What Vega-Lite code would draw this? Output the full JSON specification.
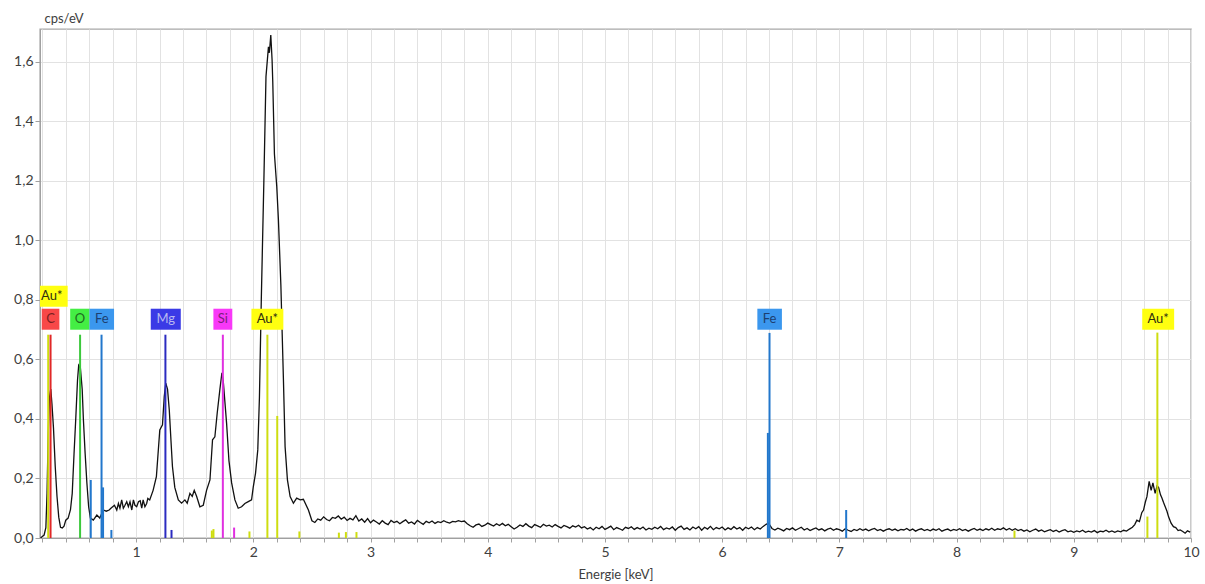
{
  "$schema": "https://vega.github.io/schema/vega-lite/v6.json",
  "width": 1151,
  "height": 509,
  "autosize": "none",
  "padding": {"left": 40, "top": 29, "right": 14, "bottom": 46},
  "background": "white",
  "config": {
    "view": {"stroke": "#a8a8a8", "strokeWidth": 1.4},
    "font": "Lato",
    "axis": {"labelFont": "Lato", "titleFont": "Lato", "labelColor": "#404040", "titleColor": "#404040", "titleFontWeight": "normal", "domainColor": "#a0a0a0", "tickColor": "#a0a0a0", "gridColor": "#e2e2e2", "gridWidth": 1}
  },
  "datasets": {
    "spectrum": [
      {"keV": 0.185, "cps": 0.0}, {"keV": 0.2, "cps": 0.005}, {"keV": 0.215, "cps": 0.01}, {"keV": 0.23, "cps": 0.035},
      {"keV": 0.24, "cps": 0.15}, {"keV": 0.25, "cps": 0.35}, {"keV": 0.26, "cps": 0.47}, {"keV": 0.272, "cps": 0.5},
      {"keV": 0.282, "cps": 0.45}, {"keV": 0.295, "cps": 0.37}, {"keV": 0.31, "cps": 0.24}, {"keV": 0.325, "cps": 0.14},
      {"keV": 0.34, "cps": 0.07}, {"keV": 0.355, "cps": 0.036}, {"keV": 0.37, "cps": 0.034}, {"keV": 0.385, "cps": 0.04},
      {"keV": 0.4, "cps": 0.06}, {"keV": 0.42, "cps": 0.067}, {"keV": 0.44, "cps": 0.095}, {"keV": 0.455, "cps": 0.15},
      {"keV": 0.47, "cps": 0.28}, {"keV": 0.485, "cps": 0.4}, {"keV": 0.5, "cps": 0.53}, {"keV": 0.51, "cps": 0.58},
      {"keV": 0.525, "cps": 0.57}, {"keV": 0.54, "cps": 0.5}, {"keV": 0.55, "cps": 0.4}, {"keV": 0.565, "cps": 0.285},
      {"keV": 0.58, "cps": 0.185}, {"keV": 0.595, "cps": 0.105}, {"keV": 0.61, "cps": 0.067}, {"keV": 0.635, "cps": 0.06},
      {"keV": 0.665, "cps": 0.077}, {"keV": 0.69, "cps": 0.067}, {"keV": 0.72, "cps": 0.094}, {"keV": 0.745, "cps": 0.09},
      {"keV": 0.77, "cps": 0.094}, {"keV": 0.785, "cps": 0.1}, {"keV": 0.8, "cps": 0.105}, {"keV": 0.815, "cps": 0.11},
      {"keV": 0.835, "cps": 0.094}, {"keV": 0.849, "cps": 0.116}, {"keV": 0.862, "cps": 0.1},
      {"keV": 0.877, "cps": 0.128}, {"keV": 0.891, "cps": 0.1}, {"keV": 0.905, "cps": 0.11}, {"keV": 0.92, "cps": 0.122}, {"keV": 0.934, "cps": 0.105},
      {"keV": 0.948, "cps": 0.122}, {"keV": 0.963, "cps": 0.094}, {"keV": 0.977, "cps": 0.128}, {"keV": 0.99, "cps": 0.11}, {"keV": 1.005, "cps": 0.105},
      {"keV": 1.02, "cps": 0.122}, {"keV": 1.035, "cps": 0.125}, {"keV": 1.048, "cps": 0.1}, {"keV": 1.06, "cps": 0.128}, {"keV": 1.075, "cps": 0.105}, {"keV": 1.09, "cps": 0.116},
      {"keV": 1.1, "cps": 0.133}, {"keV": 1.116, "cps": 0.128}, {"keV": 1.145, "cps": 0.16}, {"keV": 1.173, "cps": 0.206},
      {"keV": 1.202, "cps": 0.363}, {"keV": 1.225, "cps": 0.38}, {"keV": 1.24, "cps": 0.475}, {"keV": 1.253, "cps": 0.52},
      {"keV": 1.268, "cps": 0.5}, {"keV": 1.283, "cps": 0.43}, {"keV": 1.297, "cps": 0.33}, {"keV": 1.31, "cps": 0.24},
      {"keV": 1.33, "cps": 0.17}, {"keV": 1.36, "cps": 0.128}, {"keV": 1.388, "cps": 0.117}, {"keV": 1.416, "cps": 0.128},
      {"keV": 1.436, "cps": 0.117}, {"keV": 1.459, "cps": 0.15}, {"keV": 1.479, "cps": 0.14}, {"keV": 1.496, "cps": 0.16},
      {"keV": 1.516, "cps": 0.14}, {"keV": 1.544, "cps": 0.105}, {"keV": 1.573, "cps": 0.11}, {"keV": 1.601, "cps": 0.16},
      {"keV": 1.63, "cps": 0.195}, {"keV": 1.652, "cps": 0.33}, {"keV": 1.672, "cps": 0.34}, {"keV": 1.692, "cps": 0.42},
      {"keV": 1.715, "cps": 0.5}, {"keV": 1.732, "cps": 0.555}, {"keV": 1.743, "cps": 0.53}, {"keV": 1.757, "cps": 0.46},
      {"keV": 1.772, "cps": 0.385}, {"keV": 1.792, "cps": 0.26}, {"keV": 1.815, "cps": 0.185}, {"keV": 1.843, "cps": 0.128},
      {"keV": 1.871, "cps": 0.1}, {"keV": 1.9, "cps": 0.105}, {"keV": 1.928, "cps": 0.116}, {"keV": 1.957, "cps": 0.122},
      {"keV": 1.985, "cps": 0.128}, {"keV": 1.999, "cps": 0.17}, {"keV": 2.019, "cps": 0.218}, {"keV": 2.038, "cps": 0.296},
      {"keV": 2.052, "cps": 0.47}, {"keV": 2.068, "cps": 0.8}, {"keV": 2.09, "cps": 1.2}, {"keV": 2.108, "cps": 1.55},
      {"keV": 2.129, "cps": 1.65}, {"keV": 2.137, "cps": 1.63}, {"keV": 2.149, "cps": 1.69}, {"keV": 2.16, "cps": 1.607},
      {"keV": 2.166, "cps": 1.53}, {"keV": 2.18, "cps": 1.29}, {"keV": 2.2, "cps": 1.18}, {"keV": 2.214, "cps": 1.07},
      {"keV": 2.235, "cps": 0.85}, {"keV": 2.257, "cps": 0.53}, {"keV": 2.271, "cps": 0.307}, {"keV": 2.291, "cps": 0.195},
      {"keV": 2.314, "cps": 0.139}, {"keV": 2.342, "cps": 0.117}, {"keV": 2.37, "cps": 0.134}, {"keV": 2.4, "cps": 0.128},
      {"keV": 2.427, "cps": 0.13}, {"keV": 2.47, "cps": 0.094},
      {"keV": 2.5, "cps": 0.058}, {"keV": 2.525, "cps": 0.052}, {"keV": 2.55, "cps": 0.064}, {"keV": 2.575, "cps": 0.06},
      {"keV": 2.6, "cps": 0.071}, {"keV": 2.625, "cps": 0.062}, {"keV": 2.65, "cps": 0.058}, {"keV": 2.675, "cps": 0.069},
      {"keV": 2.7, "cps": 0.066}, {"keV": 2.725, "cps": 0.074}, {"keV": 2.75, "cps": 0.063}, {"keV": 2.775, "cps": 0.07},
      {"keV": 2.8, "cps": 0.059}, {"keV": 2.825, "cps": 0.066}, {"keV": 2.85, "cps": 0.061}, {"keV": 2.875, "cps": 0.075},
      {"keV": 2.9, "cps": 0.057}, {"keV": 2.925, "cps": 0.064}, {"keV": 2.95, "cps": 0.053}, {"keV": 2.975, "cps": 0.065},
      {"keV": 3.0, "cps": 0.051}, {"keV": 3.025, "cps": 0.06}, {"keV": 3.05, "cps": 0.054}, {"keV": 3.075, "cps": 0.047},
      {"keV": 3.1, "cps": 0.058}, {"keV": 3.125, "cps": 0.05}, {"keV": 3.15, "cps": 0.045}, {"keV": 3.175, "cps": 0.059},
      {"keV": 3.2, "cps": 0.052}, {"keV": 3.225, "cps": 0.056}, {"keV": 3.25, "cps": 0.048}, {"keV": 3.275, "cps": 0.055},
      {"keV": 3.3, "cps": 0.061}, {"keV": 3.325, "cps": 0.05}, {"keV": 3.35, "cps": 0.054}, {"keV": 3.375, "cps": 0.047},
      {"keV": 3.4, "cps": 0.059}, {"keV": 3.425, "cps": 0.052}, {"keV": 3.45, "cps": 0.046}, {"keV": 3.475, "cps": 0.056},
      {"keV": 3.5, "cps": 0.051}, {"keV": 3.525, "cps": 0.057}, {"keV": 3.55, "cps": 0.049}, {"keV": 3.575, "cps": 0.055},
      {"keV": 3.6, "cps": 0.052}, {"keV": 3.625, "cps": 0.058}, {"keV": 3.65, "cps": 0.053}, {"keV": 3.675, "cps": 0.05},
      {"keV": 3.7, "cps": 0.056}, {"keV": 3.725, "cps": 0.054}, {"keV": 3.75, "cps": 0.058}, {"keV": 3.775, "cps": 0.055},
      {"keV": 3.8, "cps": 0.057}, {"keV": 3.825, "cps": 0.048}, {"keV": 3.85, "cps": 0.041}, {"keV": 3.875, "cps": 0.036},
      {"keV": 3.9, "cps": 0.044}, {"keV": 3.925, "cps": 0.047}, {"keV": 3.95, "cps": 0.039}, {"keV": 3.975, "cps": 0.043},
      {"keV": 4.0, "cps": 0.05}, {"keV": 4.025, "cps": 0.045}, {"keV": 4.05, "cps": 0.04}, {"keV": 4.075, "cps": 0.048},
      {"keV": 4.1, "cps": 0.042}, {"keV": 4.125, "cps": 0.049}, {"keV": 4.15, "cps": 0.041}, {"keV": 4.175, "cps": 0.046},
      {"keV": 4.2, "cps": 0.038}, {"keV": 4.225, "cps": 0.03}, {"keV": 4.25, "cps": 0.036}, {"keV": 4.275, "cps": 0.044},
      {"keV": 4.3, "cps": 0.039}, {"keV": 4.325, "cps": 0.048}, {"keV": 4.35, "cps": 0.04}, {"keV": 4.375, "cps": 0.035},
      {"keV": 4.4, "cps": 0.045}, {"keV": 4.425, "cps": 0.041}, {"keV": 4.45, "cps": 0.036}, {"keV": 4.475, "cps": 0.046},
      {"keV": 4.5, "cps": 0.04}, {"keV": 4.525, "cps": 0.043}, {"keV": 4.55, "cps": 0.037}, {"keV": 4.575, "cps": 0.045},
      {"keV": 4.6, "cps": 0.039}, {"keV": 4.625, "cps": 0.034}, {"keV": 4.65, "cps": 0.042}, {"keV": 4.675, "cps": 0.038},
      {"keV": 4.7, "cps": 0.033}, {"keV": 4.725, "cps": 0.041}, {"keV": 4.75, "cps": 0.037}, {"keV": 4.775, "cps": 0.043},
      {"keV": 4.8, "cps": 0.034}, {"keV": 4.825, "cps": 0.038}, {"keV": 4.85, "cps": 0.03}, {"keV": 4.875, "cps": 0.035},
      {"keV": 4.9, "cps": 0.027}, {"keV": 4.925, "cps": 0.036}, {"keV": 4.95, "cps": 0.031}, {"keV": 4.975, "cps": 0.039},
      {"keV": 5.0, "cps": 0.029}, {"keV": 5.025, "cps": 0.034}, {"keV": 5.05, "cps": 0.04}, {"keV": 5.075, "cps": 0.028},
      {"keV": 5.1, "cps": 0.035}, {"keV": 5.125, "cps": 0.031}, {"keV": 5.15, "cps": 0.026}, {"keV": 5.175, "cps": 0.036},
      {"keV": 5.2, "cps": 0.032}, {"keV": 5.225, "cps": 0.038}, {"keV": 5.25, "cps": 0.029}, {"keV": 5.275, "cps": 0.035},
      {"keV": 5.3, "cps": 0.03}, {"keV": 5.325, "cps": 0.037}, {"keV": 5.35, "cps": 0.027}, {"keV": 5.375, "cps": 0.033},
      {"keV": 5.4, "cps": 0.029}, {"keV": 5.425, "cps": 0.036}, {"keV": 5.45, "cps": 0.031}, {"keV": 5.475, "cps": 0.039},
      {"keV": 5.5, "cps": 0.028}, {"keV": 5.525, "cps": 0.034}, {"keV": 5.55, "cps": 0.03}, {"keV": 5.575, "cps": 0.037},
      {"keV": 5.6, "cps": 0.026}, {"keV": 5.625, "cps": 0.035}, {"keV": 5.65, "cps": 0.04}, {"keV": 5.675, "cps": 0.029},
      {"keV": 5.7, "cps": 0.034}, {"keV": 5.725, "cps": 0.027}, {"keV": 5.75, "cps": 0.037}, {"keV": 5.775, "cps": 0.031},
      {"keV": 5.8, "cps": 0.038}, {"keV": 5.825, "cps": 0.026}, {"keV": 5.85, "cps": 0.036}, {"keV": 5.875, "cps": 0.03},
      {"keV": 5.9, "cps": 0.039}, {"keV": 5.925, "cps": 0.028}, {"keV": 5.95, "cps": 0.035}, {"keV": 5.975, "cps": 0.031},
      {"keV": 6.0, "cps": 0.037}, {"keV": 6.025, "cps": 0.027}, {"keV": 6.05, "cps": 0.034}, {"keV": 6.075, "cps": 0.029},
      {"keV": 6.1, "cps": 0.038}, {"keV": 6.125, "cps": 0.03}, {"keV": 6.15, "cps": 0.035}, {"keV": 6.175, "cps": 0.026},
      {"keV": 6.2, "cps": 0.036}, {"keV": 6.225, "cps": 0.031}, {"keV": 6.25, "cps": 0.037}, {"keV": 6.275, "cps": 0.028},
      {"keV": 6.3, "cps": 0.035}, {"keV": 6.325, "cps": 0.03}, {"keV": 6.35, "cps": 0.039}, {"keV": 6.375, "cps": 0.046},
      {"keV": 6.395, "cps": 0.05}, {"keV": 6.425, "cps": 0.032}, {"keV": 6.45, "cps": 0.027}, {"keV": 6.475, "cps": 0.033},
      {"keV": 6.5, "cps": 0.029}, {"keV": 6.525, "cps": 0.024}, {"keV": 6.55, "cps": 0.032}, {"keV": 6.575, "cps": 0.028},
      {"keV": 6.6, "cps": 0.034}, {"keV": 6.625, "cps": 0.026}, {"keV": 6.65, "cps": 0.031}, {"keV": 6.675, "cps": 0.036},
      {"keV": 6.7, "cps": 0.027}, {"keV": 6.725, "cps": 0.032}, {"keV": 6.75, "cps": 0.025}, {"keV": 6.775, "cps": 0.03},
      {"keV": 6.8, "cps": 0.034}, {"keV": 6.825, "cps": 0.027}, {"keV": 6.85, "cps": 0.031}, {"keV": 6.875, "cps": 0.024},
      {"keV": 6.9, "cps": 0.03}, {"keV": 6.925, "cps": 0.033}, {"keV": 6.95, "cps": 0.026}, {"keV": 6.975, "cps": 0.031},
      {"keV": 7.0, "cps": 0.028}, {"keV": 7.025, "cps": 0.023}, {"keV": 7.05, "cps": 0.031}, {"keV": 7.075, "cps": 0.026},
      {"keV": 7.1, "cps": 0.022}, {"keV": 7.125, "cps": 0.029}, {"keV": 7.15, "cps": 0.025}, {"keV": 7.175, "cps": 0.031},
      {"keV": 7.2, "cps": 0.026}, {"keV": 7.225, "cps": 0.03}, {"keV": 7.25, "cps": 0.024}, {"keV": 7.275, "cps": 0.029},
      {"keV": 7.3, "cps": 0.032}, {"keV": 7.325, "cps": 0.025}, {"keV": 7.35, "cps": 0.029}, {"keV": 7.375, "cps": 0.023},
      {"keV": 7.4, "cps": 0.028}, {"keV": 7.425, "cps": 0.031}, {"keV": 7.45, "cps": 0.026}, {"keV": 7.475, "cps": 0.03},
      {"keV": 7.5, "cps": 0.024}, {"keV": 7.525, "cps": 0.029}, {"keV": 7.55, "cps": 0.027}, {"keV": 7.575, "cps": 0.032},
      {"keV": 7.6, "cps": 0.025}, {"keV": 7.625, "cps": 0.03}, {"keV": 7.65, "cps": 0.023}, {"keV": 7.675, "cps": 0.028},
      {"keV": 7.7, "cps": 0.031}, {"keV": 7.725, "cps": 0.025}, {"keV": 7.75, "cps": 0.029}, {"keV": 7.775, "cps": 0.024},
      {"keV": 7.8, "cps": 0.03}, {"keV": 7.825, "cps": 0.026}, {"keV": 7.85, "cps": 0.031}, {"keV": 7.875, "cps": 0.023},
      {"keV": 7.9, "cps": 0.027}, {"keV": 7.925, "cps": 0.03}, {"keV": 7.95, "cps": 0.024}, {"keV": 7.975, "cps": 0.029},
      {"keV": 8.0, "cps": 0.026}, {"keV": 8.025, "cps": 0.031}, {"keV": 8.05, "cps": 0.025}, {"keV": 8.075, "cps": 0.029},
      {"keV": 8.1, "cps": 0.023}, {"keV": 8.125, "cps": 0.028}, {"keV": 8.15, "cps": 0.032}, {"keV": 8.175, "cps": 0.026},
      {"keV": 8.2, "cps": 0.03}, {"keV": 8.225, "cps": 0.025}, {"keV": 8.25, "cps": 0.031}, {"keV": 8.275, "cps": 0.027},
      {"keV": 8.3, "cps": 0.033}, {"keV": 8.325, "cps": 0.026}, {"keV": 8.35, "cps": 0.031}, {"keV": 8.375, "cps": 0.028},
      {"keV": 8.4, "cps": 0.034}, {"keV": 8.425, "cps": 0.027}, {"keV": 8.45, "cps": 0.032}, {"keV": 8.475, "cps": 0.026},
      {"keV": 8.5, "cps": 0.031}, {"keV": 8.525, "cps": 0.025}, {"keV": 8.55, "cps": 0.029}, {"keV": 8.575, "cps": 0.023},
      {"keV": 8.6, "cps": 0.027}, {"keV": 8.625, "cps": 0.021}, {"keV": 8.65, "cps": 0.026}, {"keV": 8.675, "cps": 0.03},
      {"keV": 8.7, "cps": 0.023}, {"keV": 8.725, "cps": 0.027}, {"keV": 8.75, "cps": 0.021}, {"keV": 8.775, "cps": 0.025},
      {"keV": 8.8, "cps": 0.028}, {"keV": 8.825, "cps": 0.022}, {"keV": 8.85, "cps": 0.026}, {"keV": 8.875, "cps": 0.02},
      {"keV": 8.9, "cps": 0.025}, {"keV": 8.925, "cps": 0.028}, {"keV": 8.95, "cps": 0.021}, {"keV": 8.975, "cps": 0.024},
      {"keV": 9.0, "cps": 0.019}, {"keV": 9.025, "cps": 0.024}, {"keV": 9.05, "cps": 0.021}, {"keV": 9.075, "cps": 0.026},
      {"keV": 9.1, "cps": 0.019}, {"keV": 9.125, "cps": 0.023}, {"keV": 9.15, "cps": 0.02}, {"keV": 9.175, "cps": 0.025},
      {"keV": 9.2, "cps": 0.018}, {"keV": 9.225, "cps": 0.023}, {"keV": 9.25, "cps": 0.021}, {"keV": 9.275, "cps": 0.026},
      {"keV": 9.3, "cps": 0.02}, {"keV": 9.325, "cps": 0.024}, {"keV": 9.35, "cps": 0.019}, {"keV": 9.375, "cps": 0.024},
      {"keV": 9.4, "cps": 0.021}, {"keV": 9.425, "cps": 0.026}, {"keV": 9.45, "cps": 0.023}, {"keV": 9.475, "cps": 0.03},
      {"keV": 9.5, "cps": 0.036}, {"keV": 9.52, "cps": 0.045}, {"keV": 9.538, "cps": 0.06}, {"keV": 9.56, "cps": 0.055},
      {"keV": 9.58, "cps": 0.085}, {"keV": 9.595, "cps": 0.094}, {"keV": 9.61, "cps": 0.12}, {"keV": 9.624, "cps": 0.139},
      {"keV": 9.643, "cps": 0.19}, {"keV": 9.66, "cps": 0.16}, {"keV": 9.675, "cps": 0.185}, {"keV": 9.694, "cps": 0.15},
      {"keV": 9.71, "cps": 0.175}, {"keV": 9.723, "cps": 0.17}, {"keV": 9.74, "cps": 0.145}, {"keV": 9.752, "cps": 0.134},
      {"keV": 9.765, "cps": 0.12}, {"keV": 9.78, "cps": 0.105}, {"keV": 9.795, "cps": 0.09}, {"keV": 9.808, "cps": 0.072},
      {"keV": 9.83, "cps": 0.05}, {"keV": 9.85, "cps": 0.038}, {"keV": 9.87, "cps": 0.035}, {"keV": 9.89, "cps": 0.025},
      {"keV": 9.908, "cps": 0.027}, {"keV": 9.93, "cps": 0.022}, {"keV": 9.95, "cps": 0.016}, {"keV": 9.97, "cps": 0.024},
      {"keV": 9.993, "cps": 0.02}
    ],
    "lines": [
      {"keV": 0.25, "h": 0.683, "el": "Au"}, {"keV": 0.27, "h": 0.683, "el": "C"},
      {"keV": 0.522, "h": 0.683, "el": "O"}, {"keV": 0.613, "h": 0.195, "el": "Fe"},
      {"keV": 0.705, "h": 0.683, "el": "Fe"}, {"keV": 0.718, "h": 0.17, "el": "Fe"},
      {"keV": 0.789, "h": 0.027, "el": "Fe"}, {"keV": 1.25, "h": 0.683, "el": "Mg"},
      {"keV": 1.302, "h": 0.027, "el": "Mg"}, {"keV": 1.646, "h": 0.025, "el": "Au"},
      {"keV": 1.66, "h": 0.03, "el": "Au"}, {"keV": 1.74, "h": 0.683, "el": "Si"},
      {"keV": 1.836, "h": 0.035, "el": "Si"}, {"keV": 1.967, "h": 0.022, "el": "Au"},
      {"keV": 2.12, "h": 0.683, "el": "Au"}, {"keV": 2.204, "h": 0.41, "el": "Au"},
      {"keV": 2.393, "h": 0.022, "el": "Au"}, {"keV": 2.73, "h": 0.018, "el": "Au"},
      {"keV": 2.79, "h": 0.02, "el": "Au"}, {"keV": 2.88, "h": 0.02, "el": "Au"},
      {"keV": 6.39, "h": 0.353, "el": "Fe"}, {"keV": 6.404, "h": 0.689, "el": "Fe"},
      {"keV": 7.058, "h": 0.094, "el": "Fe"}, {"keV": 8.494, "h": 0.025, "el": "Au"},
      {"keV": 9.628, "h": 0.072, "el": "Au"}, {"keV": 9.713, "h": 0.69, "el": "Au"}
    ],
    "labels": [
      {"keV": 0.28, "y": 0.812, "label": "Au*", "el": "Au"},
      {"keV": 0.27, "y": 0.735, "label": "C", "el": "C"},
      {"keV": 0.52, "y": 0.735, "label": "O", "el": "O"},
      {"keV": 0.707, "y": 0.735, "label": "Fe", "el": "Fe"},
      {"keV": 1.253, "y": 0.735, "label": "Mg", "el": "Mg"},
      {"keV": 1.74, "y": 0.735, "label": "Si", "el": "Si"},
      {"keV": 2.12, "y": 0.735, "label": "Au*", "el": "Au"},
      {"keV": 6.405, "y": 0.735, "label": "Fe", "el": "Fe"},
      {"keV": 9.72, "y": 0.735, "label": "Au*", "el": "Au"}
    ]
  },
  "encoding": {
    "x": {
      "field": "keV", "type": "quantitative",
      "scale": {"domain": [0.18, 10], "nice": false, "zero": false},
      "axis": {
        "title": "Energie [keV]", "titleFontSize": 13, "titleY": 36, "titleBaseline": "middle",
        "values": [0.2,0.4,0.6,0.8,1,1.2,1.4,1.6,1.8,2,2.2,2.4,2.6,2.8,3,3.2,3.4,3.6,3.8,4,4.2,4.4,4.6,4.8,5,5.2,5.4,5.6,5.8,6,6.2,6.4,6.6,6.8,7,7.2,7.4,7.6,7.8,8,8.2,8.4,8.6,8.8,9,9.2,9.4,9.6,9.8,10],
        "labelExpr": "abs(datum.value - round(datum.value)) < 0.001 ? format(datum.value, 'd') : ''",
        "labelFontSize": 14, "labelFlush": false, "labelOverlap": false, "labelPadding": 3,
        "tickSize": 4, "grid": true
      }
    }
  },
  "layer": [
    {
      "data": {"name": "spectrum"},
      "mark": {"type": "line", "color": "#111111", "strokeWidth": 1.3, "clip": true},
      "encoding": {
        "y": {
          "field": "cps", "type": "quantitative",
          "scale": {"domain": [0, 1.71], "nice": false},
          "axis": {
            "title": "cps/eV", "titleAngle": 0, "titleAlign": "left", "titleBaseline": "middle", "titleX": 4, "titleY": -11, "titleFontSize": 13,
            "values": [0,0.05,0.1,0.15,0.2,0.25,0.3,0.35,0.4,0.45,0.5,0.55,0.6,0.65,0.7,0.75,0.8,0.85,0.9,0.95,1,1.05,1.1,1.15,1.2,1.25,1.3,1.35,1.4,1.45,1.5,1.55,1.6,1.65,1.7],
            "labelExpr": "abs(datum.value * 5 - round(datum.value * 5)) < 0.001 ? replace(format(datum.value, '.1f'), '.', ',') : ''",
            "labelFontSize": 14, "labelOverlap": false, "labelFlush": false, "labelPadding": 2, "tickSize": 5, "grid": true
          }
        }
      }
    },
    {
      "data": {"name": "lines"},
      "mark": {"type": "rule", "strokeWidth": 2},
      "encoding": {
        "y": {"field": "h", "type": "quantitative"},
        "y2": {"datum": 0},
        "color": {
          "field": "el", "type": "nominal", "legend": null,
          "scale": {"domain": ["Au", "C", "O", "Fe", "Mg", "Si"], "range": ["#cedd10", "#e02828", "#3cc83c", "#2277cc", "#2b2bc0", "#e030e0"]}
        }
      }
    },
    {
      "data": {"name": "labels"},
      "mark": {"type": "point", "filled": true, "opacity": 1, "size": 441, "strokeWidth": 0, "clip": true},
      "encoding": {
        "y": {"field": "y", "type": "quantitative"},
        "shape": {
          "field": "label", "type": "nominal", "legend": null,
          "scale": {"domain": ["C", "O", "Fe", "Mg", "Si", "Au*"], "range": ["M-0.84,-1H0.84V1H-0.84Z", "M-0.92,-1H0.92V1H-0.92Z", "M-1.17,-1H1.17V1H-1.17Z", "M-1.43,-1H1.43V1H-1.43Z", "M-0.9,-1H0.9V1H-0.9Z", "M-1.52,-1H1.52V1H-1.52Z"]}
        },
        "color": {
          "field": "el", "type": "nominal", "legend": null,
          "scale": {"domain": ["Au", "C", "O", "Fe", "Mg", "Si"], "range": ["#ffff10", "#f84848", "#44ee44", "#3b97ee", "#3a3ae6", "#f838f8"]}
        }
      }
    },
    {
      "data": {"name": "labels"},
      "mark": {"type": "text", "fontSize": 13, "font": "Lato", "align": "center", "baseline": "middle", "clip": true},
      "encoding": {
        "y": {"field": "y", "type": "quantitative"},
        "text": {"field": "label"},
        "color": {
          "field": "el", "type": "nominal", "legend": null,
          "scale": {"domain": ["Au", "C", "O", "Fe", "Mg", "Si"], "range": ["#303010", "#7a2020", "#1e6a1e", "#1d3f70", "#b8b8f0", "#7a1f7a"]}
        }
      }
    }
  ],
  "resolve": {"scale": {"color": "independent"}}
}
